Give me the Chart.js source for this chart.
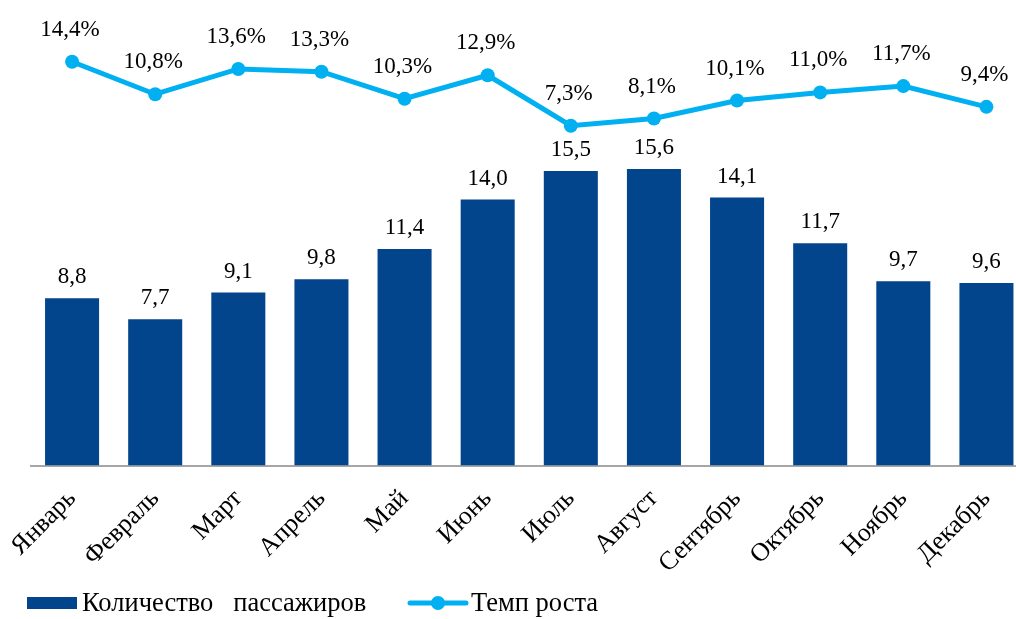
<!DOCTYPE html>
<html>
<head>
<meta charset="utf-8">
<script src="https://cdn.jsdelivr.net/npm/chart.js@4/dist/chart.umd.min.js"></script>
<style>
  html, body { margin: 0; padding: 0; background: #fff; overflow: hidden; }
  #wrap { width: 1016px; height: 619px; overflow: hidden; position: relative; }
  canvas { display: block; }
</style>
</head>
<body>
<div id="wrap"><canvas id="c" width="1035" height="619" style="width:1035px;height:619px"></canvas></div>
<script>
const months = ['Январь','Февраль','Март','Апрель','Май','Июнь','Июль','Август','Сентябрь','Октябрь','Ноябрь','Декабрь'];
const passengers = [8.8, 7.7, 9.1, 9.8, 11.4, 14.0, 15.5, 15.6, 14.1, 11.7, 9.7, 9.6];
const growthRate = [14.4, 10.8, 13.6, 13.3, 10.3, 12.9, 7.3, 8.1, 10.1, 11.0, 11.7, 9.4];
const seriesNames = ['Количество   пассажиров', 'Темп роста'];

const BAR_COLOR = '#02458C';
const LINE_COLOR = '#00B0F0';
const FONT = '"Liberation Serif", "Times New Roman", serif';

const fmt = (v, pct) => v.toFixed(1).replace('.', ',') + (pct ? '%' : '');

const labelsPlugin = {
  id: 'valueLabels',
  afterDatasetsDraw(chart) {
    const ctx = chart.ctx;
    ctx.save();
    ctx.fillStyle = '#000';
    ctx.font = '23px ' + FONT;
    ctx.textAlign = 'center';
    ctx.textBaseline = 'alphabetic';
    chart.data.datasets.forEach((ds, di) => {
      const meta = chart.getDatasetMeta(di);
      meta.data.forEach((el, i) => {
        if (ds.type === 'bar') {
          ctx.fillText(fmt(ds.data[i], false), el.x, el.y - 15);
        } else {
          ctx.fillText(fmt(ds.data[i], true), el.x - 2, el.y - 26);
        }
      });
    });
    ctx.restore();
  }
};

const legendPlugin = {
  id: 'customLegend',
  afterDraw(chart) {
    const ctx = chart.ctx;
    ctx.save();
    const yc = 603;
    ctx.fillStyle = BAR_COLOR;
    ctx.fillRect(27, 597, 50, 12);
    ctx.font = '26.5px ' + FONT;
    ctx.fillStyle = '#000';
    ctx.textAlign = 'left';
    ctx.textBaseline = 'middle';
    ctx.fillText(chart.data.datasets[1].label, 82, yc + 1);
    ctx.strokeStyle = LINE_COLOR;
    ctx.lineWidth = 5;
    ctx.lineCap = 'round';
    ctx.beginPath();
    ctx.moveTo(410, yc);
    ctx.lineTo(466, yc);
    ctx.stroke();
    ctx.fillStyle = LINE_COLOR;
    ctx.beginPath();
    ctx.arc(438, yc, 7, 0, Math.PI * 2);
    ctx.fill();
    ctx.fillStyle = '#000';
    ctx.fillText(chart.data.datasets[0].label, 471, yc + 1);
    ctx.restore();
  }
};

new Chart(document.getElementById('c'), {
  data: {
    labels: months,
    datasets: [
      {
        type: 'line',
        label: seriesNames[1],
        data: growthRate,
        yAxisID: 'y2',
        borderColor: LINE_COLOR,
        backgroundColor: LINE_COLOR,
        borderWidth: 5,
        pointRadius: 7,
        pointHoverRadius: 7,
        pointBackgroundColor: LINE_COLOR,
        pointBorderWidth: 0,
        tension: 0,
        clip: false
      },
      {
        type: 'bar',
        label: seriesNames[0],
        data: passengers,
        yAxisID: 'y',
        backgroundColor: BAR_COLOR,
        borderWidth: 0,
        barPercentage: 0.65,
        categoryPercentage: 1.0
      }
    ]
  },
  options: {
    responsive: false,
    devicePixelRatio: 1,
    animation: false,
    layout: { padding: { left: 30.5, right: 3.5, top: 9.5, bottom: 0 } },
    plugins: {
      legend: { display: false },
      tooltip: { enabled: false }
    },
    scales: {
      x: {
        grid: { display: false, drawTicks: false },
        border: { display: true, color: '#A6A6A6', width: 2 },
        ticks: {
          color: '#000',
          font: { family: FONT, size: 26 },
          minRotation: 45,
          maxRotation: 45,
          padding: 18,
          autoSkip: false
        },
        afterFit(s) { s.height = 153.5; s.paddingLeft = 0; s.paddingRight = 0; }
      },
      y: {
        display: false,
        min: 0,
        max: 24
      },
      y2: {
        display: false,
        min: -30.4,
        max: 20.2
      }
    }
  },
  plugins: [labelsPlugin, legendPlugin]
});
</script>
</body>
</html>
